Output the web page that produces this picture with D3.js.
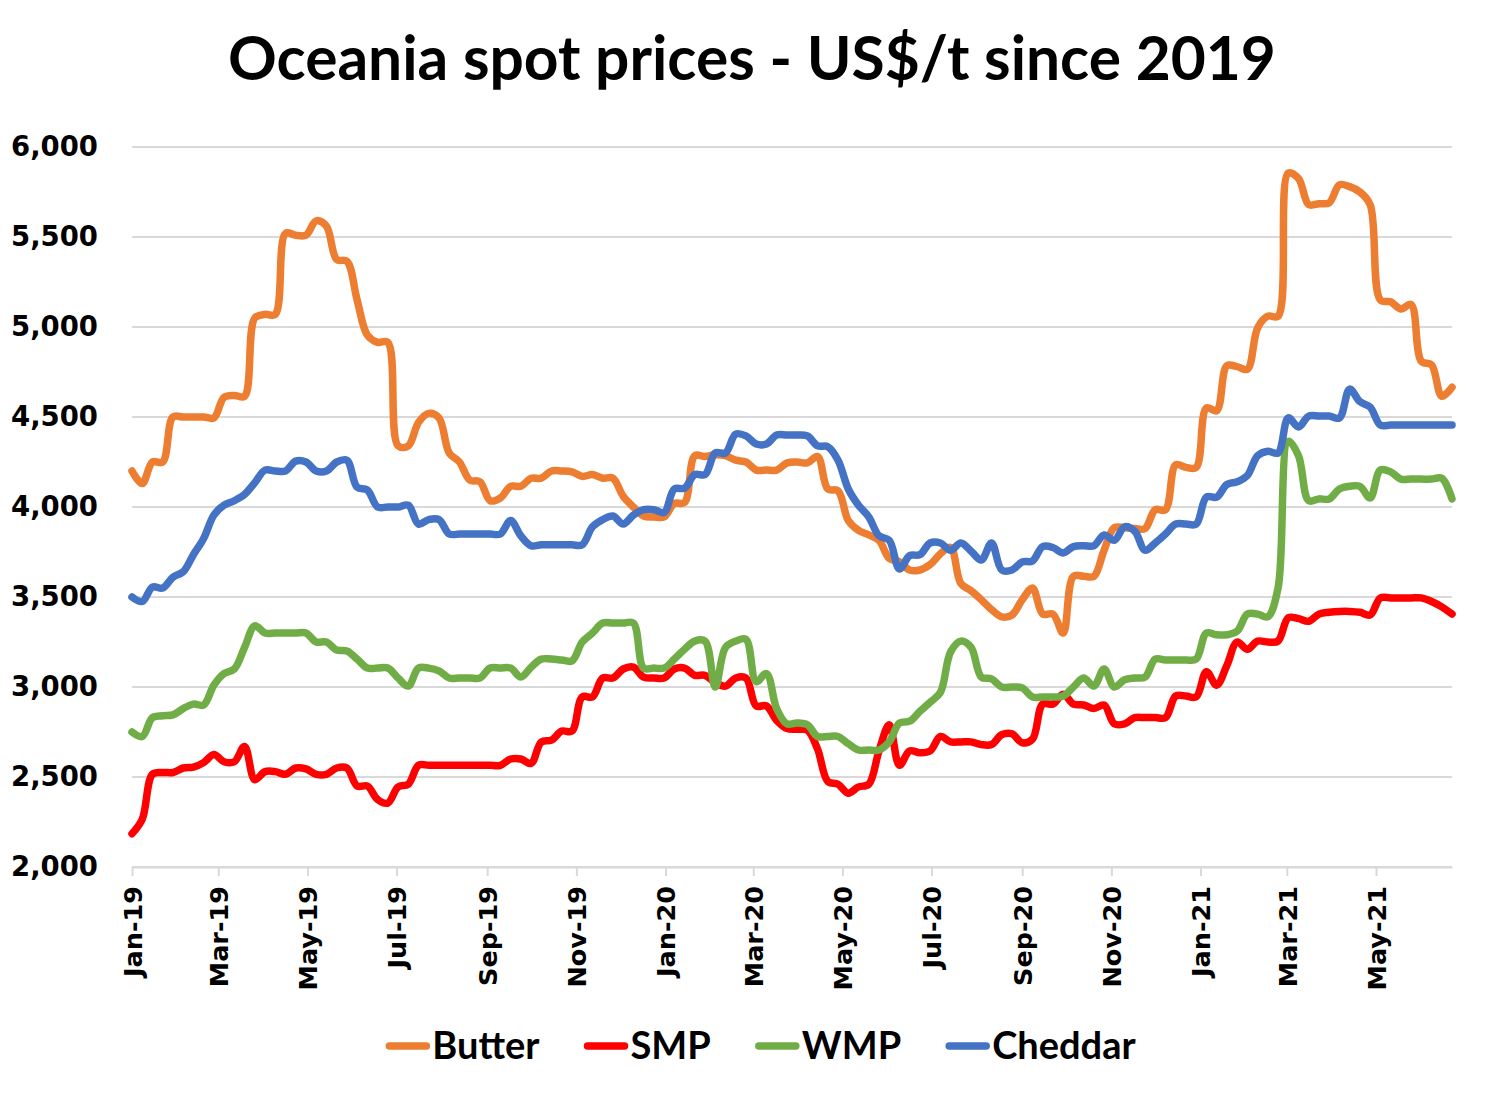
<!DOCTYPE html>
<html><head><meta charset="utf-8">
<script src="https://cdn.jsdelivr.net/npm/d3@7"></script>
<style>html,body{margin:0;padding:0;background:#fff;}</style>
</head><body>
<svg id="chart" width="1504" height="1106"></svg>
<script>
// ---- data (weekly observations starting 1 Jan 2019) ----
const firstDate = "2019-01-01";
const stepDays = 7;
const seriesNames = ["Butter", "SMP", "WMP", "Cheddar"];
const seriesColors = ["#ED7D31", "#FF0000", "#70AD47", "#4472C4"];
const yTicks = [2000, 2500, 3000, 3500, 4000, 4500, 5000, 5500, 6000];
const xTickLabels = ["Jan-19","Mar-19","May-19","Jul-19","Sep-19","Nov-19","Jan-20","Mar-20","May-20","Jul-20","Sep-20","Nov-20","Jan-21","Mar-21","May-21"];

const butter = [4200,4130,4250,4250,4500,4500,4500,4500,4495,4610,
 4620,4615,5050,5070,5070,5520,5510,5510,5590,5560,
 5375,5365,5150,4955,4915,4915,4340,4340,4470,4520,
 4495,4300,4250,4150,4140,4035,4050,4115,4115,4160,
 4160,4200,4200,4195,4170,4180,4160,4160,4060,4000,
 3950,3945,3945,4020,4025,4285,4280,4290,4285,4260,
 4250,4205,4205,4205,4245,4250,4245,4280,4100,4090,
 3925,3870,3845,3815,3715,3695,3650,3650,3680,3740,
 3775,3575,3535,3485,3430,3390,3400,3485,3550,3405,
 3405,3300,3615,3615,3615,3760,3885,3885,3880,3880,
 3985,3985,4235,4220,4220,4550,4535,4785,4780,4765,
 4995,5060,5060,5855,5825,5680,5685,5690,5790,5780,
 5750,5680,5150,5140,5100,5125,4810,4790,4615,4665];

const smp = [2185,2265,2515,2525,2525,2550,2555,2580,2625,2585,
 2585,2670,2485,2530,2530,2515,2550,2545,2515,2515,
 2550,2550,2450,2450,2375,2355,2445,2460,2565,2565,
 2565,2565,2565,2565,2565,2565,2565,2600,2600,2575,
 2695,2705,2755,2755,2945,2945,3050,3050,3100,3110,
 3055,3050,3050,3100,3105,3065,3065,3025,3005,3050,
 3050,2895,2895,2815,2770,2765,2760,2655,2475,2460,
 2410,2445,2460,2645,2790,2565,2645,2635,2645,2725,
 2695,2695,2695,2680,2680,2735,2740,2690,2710,2905,
 2905,2960,2905,2900,2880,2900,2795,2795,2830,2830,
 2830,2830,2950,2950,2945,3085,3010,3120,3250,3210,
 3255,3250,3255,3385,3380,3365,3405,3415,3420,3420,
 3415,3400,3495,3495,3495,3495,3495,3475,3445,3405];

const wmp = [2750,2725,2830,2840,2845,2880,2905,2900,3010,3075,
 3100,3220,3340,3300,3300,3300,3300,3300,3250,3250,
 3205,3200,3155,3105,3105,3105,3050,3005,3105,3105,
 3090,3050,3050,3050,3050,3105,3105,3105,3055,3110,
 3155,3155,3150,3145,3250,3300,3355,3355,3355,3355,
 3105,3105,3105,3155,3210,3255,3255,3000,3220,3255,
 3265,3030,3075,2880,2795,2800,2790,2725,2725,2725,
 2685,2650,2650,2650,2695,2800,2810,2865,2915,2970,
 3195,3255,3220,3055,3045,3000,3000,2995,2945,2945,
 2945,2950,3000,3050,3005,3100,3000,3040,3050,3055,
 3155,3150,3150,3150,3155,3300,3290,3290,3310,3405,
 3405,3390,3550,4365,4285,4035,4045,4045,4100,4115,
 4115,4050,4205,4195,4155,4155,4155,4155,4160,4045];

const cheddar = [3500,3475,3555,3550,3610,3640,3735,3825,3955,4010,
 4035,4070,4135,4205,4200,4200,4255,4250,4200,4200,
 4250,4260,4110,4095,4000,4000,4000,4010,3905,3930,
 3930,3850,3850,3850,3850,3850,3850,3925,3840,3785,
 3790,3790,3790,3790,3790,3890,3930,3950,3905,3955,
 3985,3985,3970,4100,4105,4180,4180,4300,4300,4405,
 4395,4350,4350,4400,4400,4400,4395,4340,4335,4260,
 4100,4010,3945,3840,3815,3655,3730,3735,3800,3800,
 3760,3800,3755,3705,3800,3650,3650,3695,3700,3780,
 3775,3745,3780,3785,3785,3845,3815,3890,3865,3760,
 3800,3850,3905,3905,3905,4055,4055,4125,4140,4175,
 4285,4310,4300,4495,4445,4505,4505,4505,4495,4655,
 4585,4555,4455,4455,4455,4455,4455,4455,4455,4455];

const seriesValues = [butter, smp, wmp, cheddar];

// ---- chart ----
const svg = d3.select("#chart");
svg.append("rect").attr("width",1504).attr("height",1106).attr("fill","#fff");

const parse = d3.utcParse("%Y-%m-%d");
const start = parse(firstDate);
const dates = butter.map((_, i) => d3.utcDay.offset(start, i * stepDays));

const plot = {left: 132, right: 1452, top: 147, bottom: 867};
const x = d3.scaleUtc().domain([start, dates[dates.length - 1]]).range([plot.left, plot.right]);
const y = d3.scaleLinear().domain([2000, 6000]).range([plot.bottom, plot.top]);

// gridlines
svg.append("g").selectAll("line").data(yTicks).join("line")
  .attr("x1", plot.left).attr("x2", plot.right)
  .attr("y1", d => y(d)).attr("y2", d => y(d))
  .attr("stroke", "#d9d9d9").attr("stroke-width", 2);

// y labels
const yAxis = d3.axisLeft(y).tickValues(yTicks).tickFormat(d3.format(",")).tickSize(0).tickPadding(34);
const gy = svg.append("g").attr("transform", `translate(${plot.left},0)`).call(yAxis);
gy.select(".domain").remove();
gy.selectAll("text").attr("font-family", "DejaVu Sans").attr("font-weight", "bold")
  .attr("font-size", 27.5).attr("fill", "#000");

// x axis
const xTickDates = xTickLabels.map(s => d3.utcParse("%b-%y")(s));
const xAxis = d3.axisBottom(x).tickValues(xTickDates).tickFormat(d3.utcFormat("%b-%y")).tickSize(9).tickSizeOuter(0);
const gx = svg.append("g").attr("transform", `translate(0,${plot.bottom})`).call(xAxis);
gx.select(".domain").attr("stroke", "#d9d9d9").attr("stroke-width", 2);
gx.selectAll(".tick line").attr("stroke", "#d9d9d9").attr("stroke-width", 2);
gx.selectAll("text")
  .attr("font-family", "DejaVu Sans").attr("font-weight", "bold").attr("font-size", 25.5).attr("fill", "#000")
  .attr("text-anchor", "end").attr("transform", "rotate(-90)")
  .attr("x", -19).attr("y", 0).attr("dy", "0.36em");

// lines
const line = d3.line().curve(d3.curveCatmullRom.alpha(0.5))
  .x((d, i) => x(dates[i])).y(d => y(d));
seriesValues.forEach((vals, s) => {
  svg.append("path").datum(vals).attr("d", line)
    .attr("fill", "none").attr("stroke", seriesColors[s]).attr("stroke-width", 7.5)
    .attr("stroke-linejoin", "round").attr("stroke-linecap", "round");
});

// title
const title = svg.append("text").attr("x", 752).attr("y", 80).attr("text-anchor", "middle")
  .attr("font-family", "Lato").attr("font-weight", "bold").attr("font-size", 56).attr("fill", "#000")
  .text("Oceania spot prices - US$/t since 2019");
const tw = title.node().getComputedTextLength();
title.attr("font-size", 56 * 1048 / tw);

// legend
const legend = svg.append("g");
let lx = 0;
seriesNames.forEach((name, i) => {
  const g = legend.append("g");
  g.append("line").attr("x1", 3).attr("x2", 40).attr("y1", 0).attr("y2", 0)
    .attr("stroke", seriesColors[i]).attr("stroke-width", 7.5).attr("stroke-linecap", "round");
  const t = g.append("text").attr("x", 46).attr("y", 0).attr("dy", "0.35em")
    .attr("font-family", "Lato").attr("font-weight", "bold").attr("font-size", 38).attr("fill", "#000")
    .text(name);
  const w = 46 + t.node().getComputedTextLength();
  g.attr("transform", `translate(${lx},0)`);
  lx += w + 45;
});
const totalW = lx - 45;
legend.attr("transform", `translate(${761 - totalW / 2},1046)`);
</script>
</body></html>
